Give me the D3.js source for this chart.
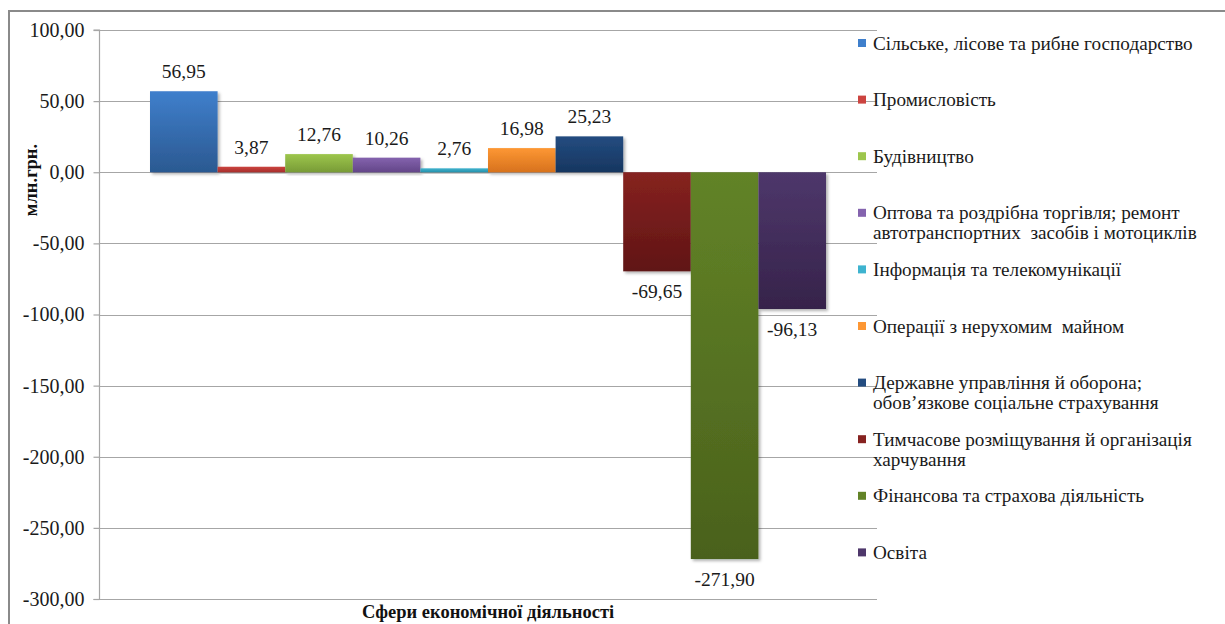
<!DOCTYPE html>
<html><head><meta charset="utf-8">
<script src="https://cdn.jsdelivr.net/npm/d3@7"></script>
<style>
html,body{margin:0;padding:0;background:#fff;}
</style></head>
<body>
<svg id="chart" width="1225" height="624"></svg>
<script>
const categories = [
  "Сільське, лісове та рибне господарство",
  "Промисловість",
  "Будівництво",
  "Оптова та роздрібна торгівля; ремонт автотранспортних засобів і мотоциклів",
  "Інформація та телекомунікації",
  "Операції з нерухомим майном",
  "Державне управління й оборона; обов’язкове соціальне страхування",
  "Тимчасове розміщування й організація харчування",
  "Фінансова та страхова діяльність",
  "Освіта"
];
const legendLines = [
  ["Сільське, лісове та рибне господарство"],
  ["Промисловість"],
  ["Будівництво"],
  ["Оптова та роздрібна торгівля; ремонт", "автотранспортних  засобів і мотоциклів"],
  ["Інформація та телекомунікації"],
  ["Операції з нерухомим  майном"],
  ["Державне управління й оборона;", "обов’язкове соціальне страхування"],
  ["Тимчасове розміщування й організація", "харчування"],
  ["Фінансова та страхова діяльність"],
  ["Освіта"]
];
const values = [56.95, 3.87, 12.76, 10.26, 2.76, 16.98, 25.23, -69.65, -271.90, -96.13];
const colorsTop = ["#3f7fcc","#cc4440","#9dc64d","#8463ae","#3eb3cf","#fd9734","#234c80","#862220","#628327","#4e376b"];
const colorsBottom = ["#2b5991","#a62f2b","#789b36","#634688","#2891ab","#d7721d","#173660","#601515","#4a611c","#36234a"];
const yTicks = [100, 50, 0, -50, -100, -150, -200, -250, -300];
const axisTitle = "Сфери економічної діяльності";
const yTitle = "млн.грн.";

const FONT = "Liberation Serif, Times New Roman, DejaVu Serif, serif";
const svg = d3.select("#chart").style("font-family", FONT);
const locale = d3.formatLocale({decimal: ",", thousands: " ", grouping: [3], currency: ["", ""], minus: "-"});
const fmt = locale.format(".2f");

const plotLeft = 99, plotRight = 877, plotTop = 30, plotBottom = 599;
const y = d3.scaleLinear().domain([-300, 100]).range([plotBottom, plotTop]);
const x = d3.scaleBand().domain(categories).range([150, 826]).padding(0);

// outer frame
svg.append("rect").attr("x", 9).attr("y", 11).attr("width", 1240).attr("height", 640)
  .attr("fill", "none").attr("stroke", "#8a8a8a").attr("stroke-width", 2);

// defs
const defs = svg.append("defs");
categories.forEach((c, i) => {
  const g = defs.append("linearGradient").attr("id", "g" + i)
    .attr("x1", 0).attr("y1", 0).attr("x2", 0).attr("y2", 1);
  g.append("stop").attr("offset", "0%").attr("stop-color", colorsTop[i]);
  g.append("stop").attr("offset", "100%").attr("stop-color", colorsBottom[i]);
});
const f = defs.append("filter").attr("id", "sh").attr("x", "-10%").attr("y", "-10%").attr("width", "130%").attr("height", "130%");
f.append("feDropShadow").attr("dx", 2).attr("dy", 2).attr("stdDeviation", 1.5).attr("flood-color", "#000").attr("flood-opacity", 0.3);

// gridlines
svg.append("g").selectAll("line").data(yTicks).join("line")
  .attr("x1", plotLeft).attr("x2", plotRight)
  .attr("y1", d => Math.round(y(d)) + 0.5).attr("y2", d => Math.round(y(d)) + 0.5)
  .attr("stroke", "#a6a6a6").attr("stroke-width", 1.2);

// y axis
const yAxis = d3.axisLeft(y).tickValues(yTicks).tickFormat(fmt).tickSize(6).tickPadding(9);
const ya = svg.append("g").attr("transform", `translate(${plotLeft + 0.5},0)`).call(yAxis)
  .attr("font-family", FONT);
ya.select(".domain").attr("stroke", "#a6a6a6").attr("stroke-width", 1.2).attr("d", `M-6,${plotTop}H0V${plotBottom + 0.5}H-6`);
ya.selectAll(".tick line").attr("stroke", "#a6a6a6").attr("stroke-width", 1.2);
ya.selectAll(".tick text").attr("font-size", 20).attr("fill", "#1a1a1a").style("font-family", FONT);

// bars
svg.append("g").selectAll("rect").data(values).join("rect")
  .attr("x", (d, i) => x(categories[i]))
  .attr("width", x.bandwidth())
  .attr("y", d => y(Math.max(0, d)))
  .attr("height", d => Math.abs(y(d) - y(0)))
  .attr("fill", (d, i) => `url(#g${i})`)
  .attr("filter", "url(#sh)");

// data labels
svg.append("g").selectAll("text").data(values).join("text")
  .attr("x", (d, i) => x(categories[i]) + x.bandwidth() / 2)
  .attr("y", d => d >= 0 ? y(d) - 13 : y(d) + 27)
  .attr("text-anchor", "middle")
  .style("font-family", FONT)
  .attr("font-size", 19.5).attr("fill", "#1a1a1a")
  .text(d => fmt(d));

// axis titles
svg.append("text").attr("x", 488).attr("y", 618).attr("text-anchor", "middle").style("font-family", FONT)
  .attr("font-size", 18.5).attr("font-weight", "bold").attr("fill", "#111").text(axisTitle);
svg.append("text").attr("transform", "translate(37,180) rotate(-90)").attr("text-anchor", "middle").style("font-family", FONT)
  .attr("font-size", 18.5).attr("font-weight", "bold").attr("fill", "#111").text(yTitle);

// legend
const leg = svg.append("g");
legendLines.forEach((lines, i) => {
  const cy = 43 + 56.6 * i;
  leg.append("rect").attr("x", 858).attr("y", cy - 4).attr("width", 8).attr("height", 8).attr("fill", colorsTop[i]);
  lines.forEach((t, j) => {
    leg.append("text").attr("x", 873).attr("y", cy + 6.5 + 20 * j).style("font-family", FONT)
      .attr("font-size", 19.2).attr("fill", "#1a1a1a").attr("xml:space", "preserve").text(t);
  });
});
</script>
</body></html>
